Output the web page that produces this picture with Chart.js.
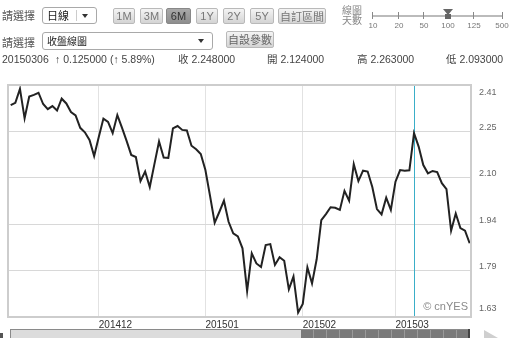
<!DOCTYPE html>
<html>
<head>
<meta charset="utf-8">
<script src="https://cdn.jsdelivr.net/npm/chart.js@4/dist/chart.umd.min.js"></script>
<style>
    html, body { margin: 0; padding: 0; background: #fff; overflow: hidden; }
    body { width: 514px; height: 338px; position: relative; font-family: "Liberation Sans", Arial, "Noto Sans CJK TC", sans-serif; }
    #wrap { position: absolute; left: 0; top: 0; width: 514px; height: 338px; }
    .ui { position: absolute; white-space: nowrap; }
    .lbl { font: 11px "Noto Sans CJK TC", sans-serif; color: #555; line-height: 14px; }
    .sel { border: 1px solid #a9a9a9; border-radius: 3px; background: #fff; height: 17px; box-sizing: border-box; font: 11px "Noto Sans CJK TC", sans-serif; color: #222; line-height: 15px; padding-left: 4px; }
    .sel .arr { position: absolute; top: 0; width: 0; height: 0; border-left: 3px solid transparent; border-right: 3px solid transparent; border-top: 4px solid #333; margin-top: 6px; }
    .btn { top: 8px; height: 16px; box-sizing: border-box; border: 1px solid #b9b9b9; border-radius: 2px; background: linear-gradient(#f4f4f4, #d4d4d4); color: #777; font-size: 11px; line-height: 14px; text-align: center; }
    .btn.on { background: linear-gradient(#a8a8a8, #8e8e8e); color: #333; border-color: #888; }
    .info { top: 53px; font-size: 10.5px; color: #444; line-height: 13px; }
    .tk { position: absolute; top: 12px; width: 1px; height: 7px; background: #888; }
    .tl { position: absolute; top: 21px; font-size: 8px; color: #777; transform: translateX(-50%); }
</style>
</head>
<body>
<div id="wrap"><canvas id="chart"></canvas></div>

<!-- toolbar -->
<div class="ui lbl" style="left:2px;top:8px;">請選擇</div>
<div class="ui sel" style="left:42px;top:7px;width:55px;">日線
    <div style="position:absolute;left:33px;top:2px;width:1px;height:11px;background:#ccc;"></div>
    <div class="arr" style="left:39px;"></div>
</div>
<div class="ui btn" style="left:113px;width:22px;">1M</div>
<div class="ui btn" style="left:140px;width:23px;">3M</div>
<div class="ui btn on" style="left:166px;width:25px;">6M</div>
<div class="ui btn" style="left:196px;width:22px;">1Y</div>
<div class="ui btn" style="left:223px;width:22px;">2Y</div>
<div class="ui btn" style="left:250px;width:24px;">5Y</div>
<div class="ui btn" style="left:278px;width:48px;font-family:'Noto Sans CJK TC';">自訂區間</div>
<div class="ui" style="left:342px;top:5px;font:10px 'Noto Sans CJK TC';color:#888;line-height:10px;">線圖<br>天數</div>
<div class="ui" style="left:0;top:0;width:514px;height:32px;">
    <div style="position:absolute;left:372px;top:15px;width:131px;height:2px;background:#bbb;"></div>
    <div class="tk" style="left:372px;"></div><div class="tl" style="left:373px;">10</div>
    <div class="tk" style="left:398px;"></div><div class="tl" style="left:399px;">20</div>
    <div class="tk" style="left:423px;"></div><div class="tl" style="left:424px;">50</div>
    <div class="tk" style="left:447px;"></div><div class="tl" style="left:448px;">100</div>
    <div class="tk" style="left:473px;"></div><div class="tl" style="left:474px;">125</div>
    <div class="tk" style="left:502px;"></div><div class="tl" style="left:502px;">500</div>
    <div style="position:absolute;left:443px;top:9px;width:0;height:0;border-left:5px solid transparent;border-right:5px solid transparent;border-top:6px solid #666;"></div>
    <div style="position:absolute;left:445px;top:14px;width:6px;height:5px;background:#666;"></div>
</div>

<div class="ui lbl" style="left:2px;top:35px;">請選擇</div>
<div class="ui sel" style="left:42px;top:32px;width:171px;height:18px;font-size:10px;">收盤線圖
    <div class="arr" style="left:155px;"></div>
</div>
<div class="ui btn" style="left:226px;top:31px;width:48px;height:17px;font-family:'Noto Sans CJK TC';color:#666;">自設參數</div>

<div class="ui info" style="left:2px;">20150306</div>
<div class="ui info" style="left:55px;">↑ 0.125000 (↑ 5.89%)</div>
<div class="ui info" style="left:178px;">收 2.248000</div>
<div class="ui info" style="left:267px;">開 2.124000</div>
<div class="ui info" style="left:357px;">高 2.263000</div>
<div class="ui info" style="left:446px;">低 2.093000</div>

<!-- range navigator -->
<div class="ui" style="left:0;top:333px;width:3px;height:6px;background:#555;"></div>
<div class="ui" style="left:10px;top:329px;width:459px;height:12px;background:#dcdcdc;border:1px solid #8a8a8a;box-sizing:border-box;"></div>
<div class="ui" style="left:301px;top:330px;width:168px;height:10px;background:repeating-linear-gradient(90deg,#7a7a7a 0 12px,#9a9a9a 12px 13px);"></div>
<div class="ui" style="left:468px;top:329px;width:2px;height:10px;background:#444;"></div>
<div class="ui" style="left:484px;top:330px;width:0;height:0;border-top:8px solid transparent;border-bottom:8px solid transparent;border-left:14px solid #cfcfcf;"></div>

<script>
// daily close, 2014-11 .. 2015-03 (6M view)
const closes = [
    2.342, 2.350, 2.397, 2.298, 2.371, 2.377, 2.384, 2.346, 2.329, 2.339,
    2.324, 2.364, 2.348, 2.319, 2.308, 2.266, 2.251, 2.225, 2.171, 2.235,
    2.297, 2.286, 2.248, 2.309, 2.267, 2.222, 2.175, 2.168, 2.087, 2.119,
    2.067, 2.144, 2.220, 2.166, 2.165, 2.264, 2.272, 2.259, 2.257, 2.206,
    2.194, 2.178, 2.124, 2.037, 1.947, 1.983, 2.021, 1.950, 1.911, 1.901,
    1.861, 1.717, 1.844, 1.810, 1.798, 1.872, 1.875, 1.805, 1.831, 1.819,
    1.723, 1.766, 1.645, 1.674, 1.797, 1.743, 1.824, 1.956, 1.976, 1.999,
    1.997, 1.990, 2.054, 2.021, 2.144, 2.087, 2.122, 2.119, 2.067, 1.993,
    1.975, 2.031, 1.990, 2.085, 2.124, 2.122, 2.123, 2.248, 2.203, 2.141,
    2.113, 2.121, 2.117, 2.080, 2.060, 1.920, 1.978, 1.929, 1.920, 1.878
];
const monthStarts = [19, 42, 63, 83];            // index of first trading day
const monthLabels = ['201412', '201501', '201502', '201503'];
const yTickLabels = ['2.41', '2.25', '2.10', '1.94', '1.79', '1.63'];
const yMin = 1.63;
const yMax = 2.41;
const cursorIndex = 87;                           // 20150306

const plotExtras = {
    id: 'plotExtras',
    beforeDatasetsDraw(chart) {
        const { ctx, chartArea: a, scales } = chart;
        const x = Math.round(scales.x.getPixelForValue(cursorIndex)) + 0.5;
        ctx.save();
        ctx.strokeStyle = '#3aaec8';
        ctx.lineWidth = 1;
        ctx.beginPath();
        ctx.moveTo(x, a.top);
        ctx.lineTo(x, a.bottom);
        ctx.stroke();
        ctx.restore();
    },
    afterDraw(chart) {
        const { ctx, chartArea: a } = chart;
        ctx.save();
        ctx.strokeStyle = '#cdcdcd';
        ctx.lineWidth = 2;
        ctx.strokeRect(a.left, a.top, a.right - a.left, a.bottom - a.top);
        ctx.fillStyle = '#8a8a8a';
        ctx.font = '11px "Liberation Sans", Arial';
        ctx.textAlign = 'right';
        ctx.textBaseline = 'middle';
        ctx.fillText('© cnYES', a.right - 3, a.bottom - 10);
        ctx.restore();
    }
};

new Chart(document.getElementById('chart').getContext('2d'), {
    type: 'line',
    data: {
        datasets: [{
            data: closes.map((v, i) => ({ x: i, y: v })),
            borderColor: '#222',
            borderWidth: 2,
            pointRadius: 0,
            tension: 0,
            fill: false
        }]
    },
    options: {
        responsive: true,
        maintainAspectRatio: false,
        animation: false,
        events: [],
        layout: { padding: { left: 8, top: 85, right: 0, bottom: 0 } },
        plugins: { legend: { display: false }, tooltip: { enabled: false } },
        scales: {
            x: {
                type: 'linear',
                min: -0.58,
                max: 99.29,
                afterBuildTicks: (s) => { s.ticks = monthStarts.map(v => ({ value: v })); },
                afterFit: (s) => { s.height = 21; },
                grid: { color: '#e2e2e2', drawTicks: false },
                border: { display: false },
                ticks: {
                    align: 'start',
                    padding: 2,
                    color: '#333',
                    font: { family: 'Liberation Sans', size: 10 },
                    callback: (v, i) => monthLabels[i]
                }
            },
            y: {
                position: 'right',
                min: yMin,
                max: yMax,
                afterBuildTicks: (s) => {
                    const t = [];
                    for (let k = 0; k <= 10; k++) t.push({ value: yMin + (yMax - yMin) * k / 10 });
                    s.ticks = t;
                },
                afterFit: (s) => { s.width = 43; },
                grid: { color: '#d8d8d8', drawTicks: false },
                border: { display: false },
                ticks: {
                    padding: 8,
                    color: '#666',
                    font: { family: 'Liberation Sans', size: 9, lineHeight: '8px' },
                    callback: (v, i) => {
                        if (i % 2) return '';
                        const lab = yTickLabels[5 - i / 2];
                        if (i === 0) return [lab, '', ''];
                        if (i === 10) return ['', '', lab];
                        return [lab, ''];
                    }
                }
            }
        }
    },
    plugins: [plotExtras]
});
</script>
</body>
</html>
